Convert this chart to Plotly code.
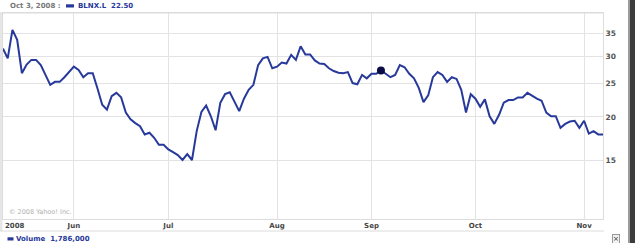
import pandas as pd
import plotly.graph_objects as go

# ---- data ----
holidays = ["2008-05-26", "2008-08-25"]
no_data_days = ["2008-06-13"]
dates = [d.strftime("%Y-%m-%d") for d in pd.bdate_range(
    "2008-05-09", "2008-11-07", freq="C", holidays=holidays + no_data_days)]

prices = [
    31.6, 29.6, 35.8, 33.5, 26.8, 28.4, 29.3, 29.3, 28.3, 26.4,
    24.8, 25.3, 25.3, 26.1, 27.0, 28.0, 27.4, 26.1, 26.8, 26.8,
    24.2, 21.7, 21.0, 23.0, 23.5, 22.8, 20.6, 19.7, 19.2, 18.8,
    17.8, 18.0, 17.4, 16.6, 16.6, 16.1, 15.8, 15.5, 15.0, 15.6,
    15.0, 18.2, 20.7, 21.6, 20.1, 18.3, 22.0, 23.3, 23.6, 22.1,
    20.8, 22.6, 24.0, 24.8, 28.3, 29.6, 29.9, 27.7, 28.0, 28.8,
    28.6, 30.3, 29.3, 32.1, 30.4, 30.4, 29.2, 28.6, 28.5, 27.7,
    27.2, 26.9, 26.8, 27.0, 25.1, 24.9, 26.5, 25.9, 26.7, 26.7,
    27.3, 26.7, 26.1, 26.5, 28.3, 27.9, 26.7, 25.9, 24.3, 22.1,
    23.1, 26.1, 27.0, 26.5, 25.3, 26.1, 25.8, 24.0, 20.6, 23.3,
    22.6, 21.4, 22.5, 20.1, 19.1, 20.3, 22.0, 22.4, 22.4, 22.8,
    22.8, 23.5, 23.0, 22.6, 22.3, 20.6, 20.1, 20.1, 18.6, 19.1,
    19.4, 19.5, 18.6, 19.5, 17.9, 18.2, 17.8, 17.8,
]
highlight_date = "2008-09-03"
highlight_value = 27.3

month_ticks = ["2008-06-02", "2008-07-01", "2008-08-01", "2008-09-01", "2008-10-01", "2008-11-03"]
month_labels = ["Jun", "Jul", "Aug", "Sep", "Oct", "Nov"]
y_ticks = [15, 20, 25, 30, 35]

header_date = "Oct 3, 2008 :"
ticker = "BLNX.L"
ticker_value = "22.50"
volume_text = "Volume  1,786,000"

# ---- style ----
LINE = "#27399a"
GRID = "#e3e3e3"
FONT = "DejaVu Sans"
W, H = 635, 243
ML, MR, MT, MB = 3, 32, 13, 24
PW, PH = W - ML - MR, H - MT - MB


def px_x(p):
    return (p - ML) / PW


def px_y(p):
    return 1 - (p - MT) / PH


fig = go.Figure()
fig.add_trace(go.Scatter(x=dates, y=prices, mode="lines",
                         line=dict(color=LINE, width=2), hoverinfo="skip"))
fig.add_trace(go.Scatter(x=[highlight_date], y=[highlight_value], mode="markers",
                         marker=dict(color="#0b0b45", size=8), hoverinfo="skip"))

fig.update_layout(
    width=W, height=H, margin=dict(l=ML, r=MR, t=MT, b=MB),
    paper_bgcolor="white", plot_bgcolor="white", showlegend=False,
    font=dict(family=FONT, size=7, color="#444"),
    xaxis=dict(type="category", range=[0, len(dates) - 1],
               tickmode="array", tickvals=month_ticks, ticktext=month_labels,
               showgrid=True, gridcolor=GRID, gridwidth=1,
               showline=True, linecolor="#dcdcdc", mirror=True,
               ticks="", tickfont=dict(family=FONT, size=7, color="#444", weight="bold"),
               zeroline=False, fixedrange=True),
    yaxis=dict(type="log", range=[1.0047, 1.6031], side="right",
               tickmode="array", tickvals=y_ticks, ticktext=[str(v) for v in y_ticks],
               showgrid=True, gridcolor=GRID, gridwidth=1,
               showline=True, linecolor="#dcdcdc", mirror=True,
               ticks="", tickfont=dict(family=FONT, size=7.5, color="#555", weight="bold"),
               zeroline=False, fixedrange=True),
)

shapes = []
# left grey band
shapes.append(dict(type="rect", xref="paper", yref="paper",
                   x0=px_x(0), x1=px_x(2.5), y0=px_y(231), y1=px_y(13),
                   fillcolor="#e6e6e6", line=dict(width=0), layer="below"))
# x-axis label strip bottom line
shapes.append(dict(type="line", xref="paper", yref="paper",
                   x0=px_x(0), x1=px_x(604), y0=px_y(231), y1=px_y(231),
                   line=dict(color="#dcdcdc", width=1)))
# top header line extends to left edge
shapes.append(dict(type="line", xref="paper", yref="paper",
                   x0=px_x(0), x1=px_x(604), y0=px_y(13), y1=px_y(13),
                   line=dict(color="#dcdcdc", width=1)))
# right dark bar
shapes.append(dict(type="rect", xref="paper", yref="paper",
                   x0=px_x(629.5), x1=px_x(636), y0=px_y(244), y1=px_y(-1),
                   fillcolor="#3c3c3c", line=dict(width=0)))
shapes.append(dict(type="line", xref="paper", yref="paper",
                   x0=px_x(628.5), x1=px_x(628.5), y0=px_y(244), y1=px_y(-1),
                   line=dict(color="#9a9a9a", width=1)))
# legend swatches
shapes.append(dict(type="rect", xref="paper", yref="paper",
                   x0=px_x(66), x1=px_x(74), y0=px_y(7.5), y1=px_y(4.3),
                   fillcolor=LINE, line=dict(width=0)))
shapes.append(dict(type="rect", xref="paper", yref="paper",
                   x0=px_x(7.5), x1=px_x(13.5), y0=px_y(240.5), y1=px_y(237.3),
                   fillcolor=LINE, line=dict(width=0)))
fig.update_layout(shapes=shapes)

ann = []
ann.append(dict(xref="paper", yref="paper", x=px_x(8), y=px_y(6), xanchor="left", yanchor="middle",
                text="<b>" + header_date + "</b>", showarrow=False,
                font=dict(family=FONT, size=7, color="#777")))
ann.append(dict(xref="paper", yref="paper", x=px_x(75.5), y=px_y(6), xanchor="left", yanchor="middle",
                text="<b>" + ticker + "  " + ticker_value + "</b>", showarrow=False,
                font=dict(family=FONT, size=7, color=LINE)))
ann.append(dict(xref="paper", yref="paper", x=px_x(3), y=px_y(225.5), xanchor="left", yanchor="middle",
                text="<b>2008</b>", showarrow=False,
                font=dict(family=FONT, size=7, color="#444")))
ann.append(dict(xref="paper", yref="paper", x=px_x(7), y=px_y(212), xanchor="left", yanchor="middle",
                text="© 2008 Yahoo! Inc.", showarrow=False,
                font=dict(family=FONT, size=6.5, color="#b0b0b0")))
ann.append(dict(xref="paper", yref="paper", x=px_x(14), y=px_y(239), xanchor="left", yanchor="middle",
                text="<b>" + volume_text + "</b>", showarrow=False,
                font=dict(family=FONT, size=7, color=LINE)))
ann.append(dict(xref="paper", yref="paper", x=px_x(616), y=px_y(239), xanchor="center", yanchor="middle",
                text="×", showarrow=False, bordercolor="#999", borderwidth=1, borderpad=0,
                bgcolor="#f0f0f0", font=dict(family=FONT, size=7, color="#333")))
fig.update_layout(annotations=ann)

fig.write_html("out.html")
